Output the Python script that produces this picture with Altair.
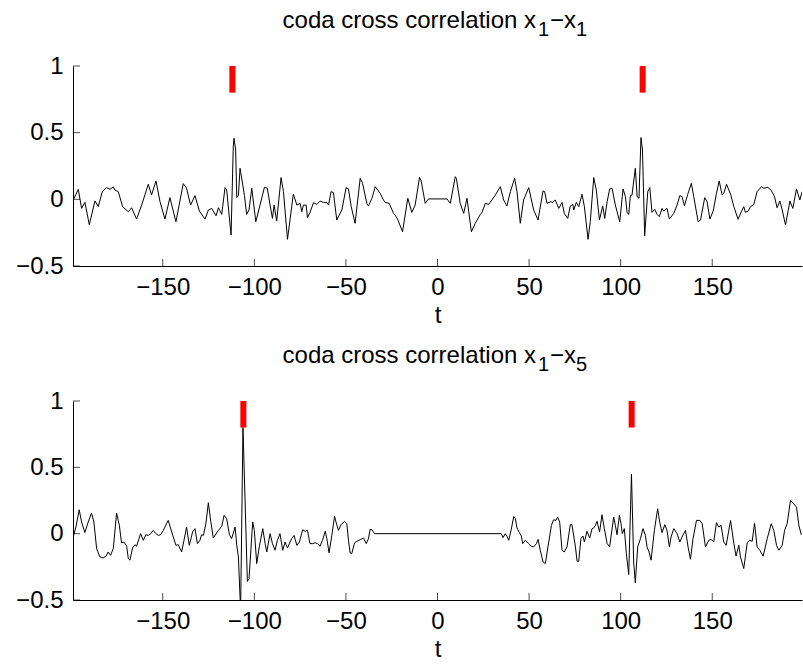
import altair as alt
import pandas as pd

# ---------------- data ----------------
top_t = [-198.9, -196.1, -194.3, -192.5, -190.1, -187.0, -185.2, -183.0, -180.7, -178.8,
         -177.0, -176.1, -174.3, -171.9, -168.8, -167.0, -164.3, -161.5, -157.9, -156.1,
         -153.7, -151.5, -148.8, -146.1, -142.8, -138.8, -137.0, -134.8, -132.4, -130.0,
         -126.9, -125.1, -123.3, -120.9, -119.6, -117.8, -116.0, -115.1, -112.7, -111.5,
         -111.1, -110.2, -109.6, -108.7, -107.8, -106.3, -105.4, -104.2, -102.9, -101.4,
         -99.2, -96.9, -94.5, -92.9, -91.4, -90.1, -89.2, -87.8, -85.4, -84.1,
         -81.9, -78.7, -76.8, -75.0, -74.1, -73.2, -71.7, -71.0, -69.6, -67.7,
         -65.9, -64.1, -62.3, -60.4, -59.5, -58.1, -56.8, -55.0, -52.2, -49.9,
         -48.6, -47.1, -45.0, -42.2, -40.9, -38.6, -37.7, -35.8, -34.0, -31.3,
         -29.5, -28.6, -26.4, -24.0, -23.1, -21.6, -19.1, -16.2, -14.0, -12.2,
         -9.8, -8.9, -6.7, -4.9, -3.0, 5.2, 7.0, 9.7, 10.3, 12.4,
         14.3, 16.1, 18.5, 20.6, 23.4, 24.3, 26.1, 27.9, 29.7, 31.6,
         34.3, 36.1, 37.9, 39.8, 42.1, 43.4, 45.2, 47.0, 49.8, 52.5,
         54.9, 57.6, 58.5, 59.8, 61.6, 62.9, 64.3, 66.2, 68.0, 69.2,
         71.1, 72.5, 73.9, 74.4, 75.8, 77.1, 78.9, 80.2, 82.2, 83.4,
         85.3, 86.7, 88.4, 90.2, 91.3, 92.6, 94.0, 95.3, 97.1, 99.5,
         101.3, 102.6, 103.5, 104.4, 105.3, 106.2, 108.0, 109.0, 110.0, 111.1,
         111.9, 113.1, 114.8, 115.9, 117.1, 118.6, 119.9, 121.1, 122.6, 123.5,
         125.3, 126.6, 129.0, 130.8, 132.3, 133.5, 134.8, 136.8, 138.6, 139.9,
         142.3, 143.6, 145.9, 147.2, 148.7, 150.5, 152.3, 153.8, 155.4, 156.3,
         157.8, 160.0, 161.8, 164.1, 166.0, 167.2, 168.1, 169.6, 170.9, 172.7,
         174.5, 176.9, 178.2, 180.3, 182.2, 184.0, 185.4, 186.9, 188.2, 190.0,
         192.4, 194.0, 196.0, 197.8, 199.1]
top_v = [-0.005, 0.075, -0.068, -0.022, -0.19, -0.012, -0.055, 0.058, 0.088, 0.075,
         0.093, 0.07, 0.058, -0.055, -0.093, -0.063, -0.148, -0.043, 0.113, 0.033,
         0.138, -0.018, -0.148, 0.013, -0.168, 0.118, 0.083, -0.043, 0.028, -0.088,
         -0.148, -0.08, -0.068, -0.123, -0.063, -0.113, 0.088, 0.07, -0.268, 0.395,
         0.458, 0.37, 0.013, 0.028, 0.233, 0.108, 0.028, -0.113, -0.08, 0.083,
         -0.168, -0.043, 0.09, 0.083, -0.043, -0.143, -0.043, -0.163, 0.163, 0.058,
         -0.3, 0.04, -0.043, -0.03, -0.093, -0.043, -0.043, -0.138, -0.098, -0.025,
         -0.038, -0.013, -0.023, -0.023, -0.043, 0.058, 0.05, -0.155, -0.08, 0.088,
         0.078, -0.055, -0.18, 0.158, 0.12, -0.03, -0.05, 0.008, 0.095, 0.045,
         -0.005, -0.023, -0.03, -0.105, -0.118, -0.155, -0.243, 0.008, -0.098, -0.043,
         0.165, 0.138, -0.03, 0.003, 0.003, 0.003, -0.03, 0.17, 0.158, -0.03,
         -0.105, 0.008, -0.243, -0.18, -0.113, -0.098, -0.03, -0.038, -0.005, 0.033,
         0.095, -0.005, -0.05, 0.058, 0.158, 0.058, -0.18, -0.005, 0.088, -0.08,
         -0.155, 0.063, 0.058, -0.03, -0.018, -0.023, -0.005, -0.068, -0.023, -0.105,
         -0.143, -0.05, -0.038, -0.08, -0.023, -0.055, 0.038, -0.055, -0.3, -0.168,
         0.163, 0.07, -0.155, -0.05, -0.143, -0.018, 0.078, 0.083, -0.043, -0.168,
         0.078, 0.02, -0.098, -0.113, 0.028, 0.033, 0.233, 0.02, 0.008, 0.463,
         0.37, -0.273, 0.058, 0.088, -0.098, -0.075, -0.113, -0.13, -0.068, -0.088,
         -0.068, -0.148, -0.105, -0.043, 0.028, 0.02, -0.048, 0.045, 0.12, 0.02,
         -0.168, -0.155, 0.013, -0.018, -0.148, -0.088, 0.045, 0.138, 0.033, 0.045,
         0.113, 0.038, -0.055, -0.15, -0.088, -0.055, -0.098, -0.088, -0.055, -0.038,
         0.058, 0.095, 0.083, 0.09, 0.068, 0.02, -0.063, -0.013, -0.08, -0.193,
         -0.013, -0.068, 0.078, -0.005, 0.058]

bot_t = [-198.9, -197.4, -195.6, -194.3, -192.5, -190.7, -188.9, -187.6, -186.1, -184.3,
         -182.5, -181.0, -179.8, -178.5, -177.0, -175.2, -173.7, -172.5, -171.2, -169.7,
         -168.8, -167.9, -166.5, -165.2, -164.3, -162.1, -160.6, -159.2, -157.9, -156.6,
         -155.2, -153.7, -152.4, -151.2, -149.7, -147.0, -145.1, -142.8, -141.5, -139.7,
         -138.4, -137.0, -135.5, -133.7, -132.4, -131.1, -129.7, -128.8, -127.8, -126.4,
         -125.1, -123.8, -122.4, -119.6, -117.8, -116.5, -115.1, -113.6, -112.4, -110.5,
         -109.6, -108.7, -107.5, -106.2, -103.8, -102.9, -100.9, -100.0, -98.7, -97.3,
         -95.4, -94.1, -93.2, -91.4, -90.1, -88.7, -87.4, -86.0, -84.5, -83.2,
         -81.9, -80.5, -79.6, -78.3, -76.8, -75.4, -73.6, -72.3, -71.0, -69.6,
         -68.1, -66.8, -65.6, -64.1, -62.8, -61.3, -60.4, -59.2, -57.7, -56.2,
         -55.5, -54.1, -52.6, -50.8, -49.5, -48.6, -47.7, -46.8, -45.3, -44.0,
         -42.2, -40.4, -38.9, -37.7, -36.8, -35.8, -34.4, 34.8, 35.8, 37.0,
         37.9, 38.9, 40.3, 41.6, 42.5, 43.4, 44.7, 45.8, 46.5, 48.0,
         49.8, 51.2, 52.5, 54.0, 54.9, 56.1, 57.6, 58.9, 60.3, 62.2,
         63.4, 64.7, 65.6, 66.7, 68.0, 69.2, 70.7, 72.5, 73.4, 75.3,
         76.2, 77.1, 78.3, 79.4, 80.2, 81.6, 83.1, 84.4, 85.3, 86.2,
         87.1, 88.5, 89.8, 91.1, 92.6, 94.0, 94.7, 96.2, 97.1, 98.0,
         99.3, 100.2, 100.9, 102.0, 103.1, 104.4, 105.9, 107.1, 108.0, 109.3,
         110.8, 112.2, 113.5, 114.4, 115.5, 116.6, 118.4, 120.2, 121.3, 122.6,
         124.1, 125.3, 126.6, 127.5, 129.0, 130.8, 132.3, 133.5, 135.4, 136.8,
         138.1, 139.5, 141.4, 143.2, 144.5, 146.3, 148.1, 149.4, 150.8, 152.3,
         153.6, 154.8, 156.3, 157.6, 160.0, 161.8, 163.0, 164.5, 165.4, 167.2,
         169.1, 170.5, 171.8, 173.1, 174.5, 176.0, 177.8, 180.0, 182.2, 183.6,
         185.1, 186.4, 188.2, 189.5, 190.9, 192.7, 194.5, 196.0, 197.3, 198.6]
bot_v = [-0.025, 0.05, 0.18, 0.088, 0.008, 0.088, 0.155, 0.088, -0.113, -0.175,
         -0.183, -0.17, -0.138, -0.163, -0.113, 0.155, 0.063, -0.07, -0.063, -0.095,
         -0.188, -0.2, -0.108, -0.083, -0.095, 0.0, -0.05, -0.008, -0.013, 0.0,
         0.025, 0.0, -0.013, -0.008, 0.025, 0.1, 0.013, -0.088, -0.083, -0.138,
         -0.05, 0.05, -0.088, 0.013, 0.038, -0.075, -0.05, -0.008, -0.013, 0.08,
         0.233, 0.093, -0.033, 0.025, 0.055, 0.138, 0.113, -0.008, -0.038, 0.05,
         -0.088, -0.175, -0.58, 0.80, -0.36, -0.34, 0.088, 0.025, -0.225, -0.1,
         0.038, -0.075, -0.138, 0.0, -0.075, -0.125, -0.05, 0.0, -0.125, -0.063,
         -0.108, -0.063, -0.038, -0.013, -0.088, -0.063, 0.03, 0.018, 0.025, -0.075,
         -0.075, -0.068, -0.075, -0.095, -0.05, 0.018, -0.038, -0.145, -0.013, 0.13,
         0.093, 0.025, 0.068, 0.093, 0.075, -0.05, -0.145, -0.15, -0.07, -0.058,
         -0.045, -0.033, -0.075, -0.038, 0.033, 0.03, 0.0, 0.0, -0.03, 0.0,
         -0.018, -0.05, 0.033, 0.13, 0.113, 0.043, 0.008, -0.018, -0.075, -0.05,
         -0.075, -0.095, -0.1, -0.075, -0.043, -0.125, -0.213, -0.225, -0.1, 0.063,
         0.105, 0.1, 0.125, 0.088, -0.125, -0.138, -0.1, 0.068, 0.068, -0.1,
         -0.208, -0.208, -0.038, -0.018, -0.063, 0.018, -0.033, 0.038, 0.043, 0.063,
         0.093, 0.013, 0.143, 0.038, -0.075, -0.1, -0.025, 0.125, 0.063, -0.008,
         0.138, 0.075, 0.0, 0.038, -0.15, -0.308, 0.45, -0.213, -0.37, -0.1,
         -0.038, 0.038, -0.013, -0.1, -0.138, -0.2, 0.025, 0.188, 0.088, 0.008,
         0.068, 0.025, -0.1, -0.025, 0.038, 0.0, -0.063, -0.025, 0.025, -0.1,
         -0.193, -0.038, 0.1, 0.1, 0.075, -0.1, -0.05, -0.043, -0.063, 0.083,
         0.05, 0.063, -0.063, -0.088, 0.1, -0.075, -0.168, -0.088, -0.175, -0.263,
         -0.068, -0.05, -0.058, 0.08, -0.1, -0.125, -0.17, -0.038, 0.075, 0.025,
         -0.088, -0.125, -0.088, 0.025, 0.075, 0.25, 0.225, 0.2, 0.063, -0.008]

top_marker_t = [-112, 112]
bot_marker_t = [-106, 106]
marker_lo = 0.8
marker_hi = 1.0

x_ticks = [-150, -100, -50, 0, 50, 100, 150]
y_ticks = [-0.5, 0, 0.5, 1]
x_domain = [-199, 199]
y_domain = [-0.5, 1]

title_main = "coda cross correlation x"
top_subs = ["1", "1"]
bot_subs = ["1", "5"]

FONT = "Liberation Sans"
W = 729


def panel(t, v, marker_t, subs, h):
    xs = alt.Scale(domain=x_domain, nice=False, zero=False)
    ys = alt.Scale(domain=y_domain, nice=False, zero=False)
    df = pd.DataFrame({"t": t, "v": v})
    line = alt.Chart(df).mark_line(color="black", strokeWidth=1, clip=True).encode(
        x=alt.X("t:Q", scale=xs,
                axis=alt.Axis(values=x_ticks, title="t", grid=False, ticks=False,
                              tickSize=0, labelPadding=9, titlePadding=4,
                              labelFontSize=24, titleFontSize=24, titleFontWeight="normal",
                              labelFont=FONT, titleFont=FONT, domainColor="black",
                              labelColor="black", titleColor="black", labelFlush=False)),
        y=alt.Y("v:Q", scale=ys,
                axis=alt.Axis(values=y_ticks, format="~g", title=None, grid=False,
                              ticks=False, tickSize=0, labelPadding=10, labelFontSize=24,
                              labelFont=FONT, domainColor="black", labelColor="black",
                              labelFlush=False)),
    )
    mdf = pd.DataFrame({"t": marker_t, "lo": [marker_lo] * len(marker_t),
                        "hi": [marker_hi] * len(marker_t)})
    markers = alt.Chart(mdf).mark_rule(color="#ff0000", strokeWidth=6).encode(
        x=alt.X("t:Q", scale=xs), y=alt.Y("lo:Q", scale=ys), y2="hi:Q")
    xt = alt.Chart(pd.DataFrame({"t": x_ticks})).mark_tick(
        orient="vertical", size=7, thickness=1, color="black").encode(
        x=alt.X("t:Q", scale=xs), y=alt.value(h - 3.5))
    yt = alt.Chart(pd.DataFrame({"v": y_ticks})).mark_tick(
        orient="horizontal", size=7, thickness=1, color="black").encode(
        y=alt.Y("v:Q", scale=ys), x=alt.value(3.5))
    tdf = pd.DataFrame({"a": [0]})
    t_main = alt.Chart(tdf).mark_text(text=title_main, font=FONT, fontSize=24, align="right",
                                      baseline="alphabetic", color="black").encode(
        x=alt.value(463), y=alt.value(-38))
    t_s1 = alt.Chart(tdf).mark_text(text=subs[0], font=FONT, fontSize=20, align="left",
                                    baseline="alphabetic", color="black").encode(
        x=alt.value(465), y=alt.value(-30))
    t_mid = alt.Chart(tdf).mark_text(text="\u2212x", font=FONT, fontSize=24, align="left",
                                     baseline="alphabetic", color="black").encode(
        x=alt.value(477), y=alt.value(-38))
    t_s2 = alt.Chart(tdf).mark_text(text=subs[1], font=FONT, fontSize=20, align="left",
                                    baseline="alphabetic", color="black").encode(
        x=alt.value(503), y=alt.value(-30))
    return alt.layer(line, markers, xt, yt, t_main, t_s1, t_mid, t_s2).properties(
        width=W, height=h)


top = panel(top_t, top_v, top_marker_t, top_subs, 200)
bot = panel(bot_t, bot_v, bot_marker_t, bot_subs, 199)

chart = alt.vconcat(top, bot, spacing=135, bounds="flush").properties(
    padding={"left": 15, "top": 9, "right": 1, "bottom": 2},
    background="white",
).configure_view(stroke=None)

chart.save("out.html", embed_options={"renderer": "svg", "actions": False})
